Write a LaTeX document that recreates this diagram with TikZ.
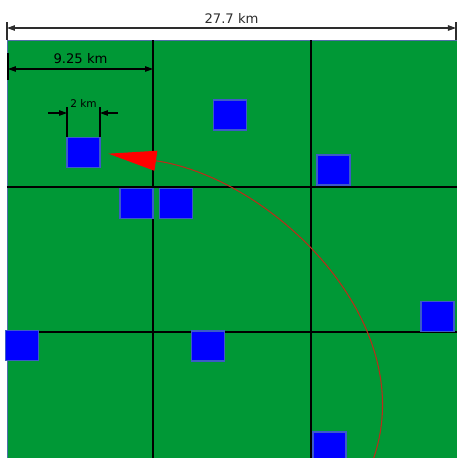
\documentclass[tikz,border=0pt]{standalone}
\usepackage{fontspec}
\setsansfont{DejaVu Sans}
\usetikzlibrary{arrows.meta}
\definecolor{field}{RGB}{0,152,54}
\definecolor{siteedge}{RGB}{60,90,200}
\definecolor{fieldedge}{RGB}{80,110,170}
\definecolor{routeline}{RGB}{185,45,25}
\definecolor{dimgray}{RGB}{45,45,45}

\begin{document}
\begin{tikzpicture}
    [x=0.02cm, y=-0.02cm,
    site/.style={draw=siteedge, fill=blue, line width=0.6pt, minimum width=0.66cm, minimum height=0.6cm, inner sep=0pt},
    gridline/.style={line width=0.9pt, black},
    dimline/.style={line width=0.6pt, {Triangle[length=0.16cm,width=0.11cm]}-{Triangle[length=0.16cm,width=0.11cm]}},
    halfdim/.style={line width=0.6pt, -{Triangle[length=0.16cm,width=0.11cm]}},
    ticks/.style={line width=0.6pt},
    lbl/.style={font=\sffamily\fontsize{7.5}{9}\selectfont, inner sep=1pt},
    route/.style={routeline, line width=0.6pt, -{Triangle[length=0.96cm,width=0.4cm,color=red,fill=red]}}]
        \useasboundingbox (0,0) rectangle (457,458);

        %% Field and grid
        \fill[field] (7,40) rectangle (457,458);
        \draw[fieldedge, line width=0.4pt] (7,458) -- (7,40) -- (457,40);
        \draw[gridline] (153,40) -- (153,458);
        \draw[gridline] (311,40) -- (311,458);
        \draw[gridline] (7,187) -- (457,187);
        \draw[gridline] (7,332) -- (457,332);

        %% Sites
        \node[site] (site1) at (83.5,152.5) {};
        \node[site] (site2) at (136.5,203.5) {};
        \node[site] (site3) at (176,203.5) {};
        \node[site] (site4) at (230,115) {};
        \node[site] (site5) at (333.5,170) {};
        \node[site] (site6) at (437.5,316.5) {};
        \node[site] (site7) at (208,346) {};
        \node[site] (site8) at (329.5,447) {};
        \node[site] (site9) at (22,345.5) {};

        %% Dimensions
        \coordinate (totL) at (7,28);
        \coordinate (totR) at (456,28);
        \draw[ticks, dimgray] (7,22) -- (7,40);
        \draw[ticks, dimgray] (456,22) -- (456,40);
        \draw[dimline, dimgray] (totL) -- node[lbl, above=1pt] {27.7 km} (totR);

        \coordinate (cellL) at (8,69);
        \coordinate (cellR) at (153,69);
        \draw[ticks] (8,53) -- (8,80);
        \draw[dimline] (cellL) -- node[lbl, above=2pt] {9.25 km} (cellR);

        \coordinate (sizeL) at (67,113);
        \coordinate (sizeR) at (100,113);
        \draw[ticks] (67,107) -- (sizeL |- site1.north);
        \draw[ticks] (100,107) -- (sizeR |- site1.north);
        \draw[halfdim] (48,113) -- (sizeL);
        \draw[halfdim] (118,113) -- (sizeR);
        \node[lbl, font=\sffamily\fontsize{6}{7}\selectfont] (sizelbl) at (83.5,103) {2 km};

        %% Route
        \coordinate (routeStart) at (373,460);
        \draw[route, shorten >=0.16cm] (routeStart) .. controls (422,322) and (272,178) .. (site1.east);
    \end{tikzpicture}
\end{document}
